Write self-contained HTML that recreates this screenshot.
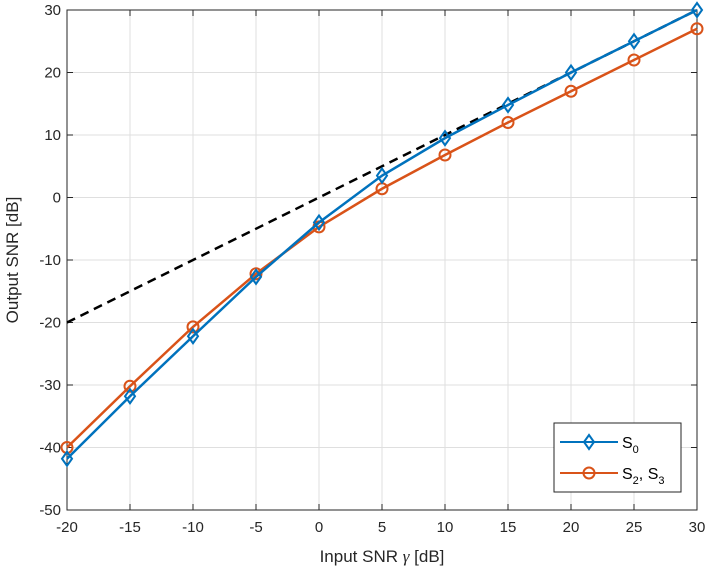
<!DOCTYPE html>
<html><head><meta charset="utf-8"><style>
body{margin:0;background:#fff}
svg{display:block;font-family:"Liberation Sans",sans-serif}
</style></head><body>
<svg id="chart" width="706" height="572" viewBox="0 0 706 572">
<g id="grid"></g>
<g id="axes"></g>
<g id="series"></g>
<text x="382" y="562" font-size="17" text-anchor="middle" fill="#262626">Input SNR <tspan font-family="Liberation Serif" font-style="italic">γ</tspan> [dB]</text>
<text transform="translate(18,260) rotate(-90)" font-size="17" text-anchor="middle" fill="#262626">Output SNR [dB]</text>
<g>
<rect x="554" y="423" width="127" height="69" fill="#fff" stroke="#262626" stroke-width="1"/>
<line x1="560" y1="442" x2="618" y2="442" stroke="#0072BD" stroke-width="2"/>
<path d="M589,435 L594,442 L589,449 L584,442 Z" fill="none" stroke="#0072BD" stroke-width="2"/>
<text x="622" y="448" font-size="16" fill="#000">S<tspan font-size="11" dy="5">0</tspan></text>
<line x1="560" y1="473" x2="618" y2="473" stroke="#D95319" stroke-width="2"/>
<circle cx="589" cy="473" r="5.5" fill="none" stroke="#D95319" stroke-width="2"/>
<text x="622" y="479" font-size="16" fill="#000">S<tspan font-size="11" dy="5">2</tspan><tspan dy="-5">, S</tspan><tspan font-size="11" dy="5">3</tspan></text>
</g>
</svg>
<script>
const xVals=[-20,-15,-10,-5,0,5,10,15,20,25,30];
const s0=[-41.8,-31.8,-22.2,-12.7,-4,3.5,9.5,14.8,20,25,30];
const s23=[-40,-30.2,-20.7,-12.2,-4.7,1.4,6.8,12,17,22,27];
const xTicks=[-20,-15,-10,-5,0,5,10,15,20,25,30];
const yTicks=[30,20,10,0,-10,-20,-30,-40,-50];
const L=67,R=697,T=10,B=510;
const xs=v=>L+(v+20)/50*(R-L);
const ys=v=>T+(30-v)/80*(B-T);
const NS='http://www.w3.org/2000/svg';
function mk(tag,attrs,parent){const e=document.createElementNS(NS,tag);for(const k in attrs)e.setAttribute(k,attrs[k]);parent.appendChild(e);return e;}
const grid=document.getElementById('grid'),axes=document.getElementById('axes'),ser=document.getElementById('series');
mk('rect',{x:L,y:T,width:R-L,height:B-T,fill:'#fff'},grid);
xTicks.forEach(t=>{const x=xs(t);
 mk('line',{x1:x,y1:T,x2:x,y2:B,stroke:'#dfdfdf','stroke-width':1},grid);
 mk('line',{x1:x,y1:B,x2:x,y2:B-6,stroke:'#262626'},axes);
 mk('line',{x1:x,y1:T,x2:x,y2:T+6,stroke:'#262626'},axes);
 const tx=mk('text',{x:x,y:B+22,'font-size':15,'text-anchor':'middle',fill:'#262626'},axes);tx.textContent=t;
 
 });
yTicks.forEach(t=>{const y=ys(t);
 mk('line',{x1:L,y1:y,x2:R,y2:y,stroke:'#dfdfdf','stroke-width':1},grid);
 mk('line',{x1:L,y1:y,x2:L+6,y2:y,stroke:'#262626'},axes);
 mk('line',{x1:R,y1:y,x2:R-6,y2:y,stroke:'#262626'},axes);
 const tx=mk('text',{x:L-6,y:y+5,'font-size':15,'text-anchor':'end',fill:'#262626'},axes);tx.textContent=t;
 
 });
mk('rect',{x:L,y:T,width:R-L,height:B-T,fill:'none',stroke:'#262626','stroke-width':1},axes);
const ref=mk('line',{x1:xs(-20),y1:ys(-20),x2:xs(30),y2:ys(30),stroke:'#000','stroke-width':2.5,'stroke-dasharray':'9,6'},ser);


function series(vals,color,marker,name){
 const p=mk('polyline',{points:xVals.map((x,i)=>xs(x)+','+ys(vals[i])).join(' '),fill:'none',stroke:color,'stroke-width':2.5},ser);
 
 
 xVals.forEach((x,i)=>{const cx=xs(x),cy=ys(vals[i]);let m;
  if(marker==='d')m=mk('path',{d:`M${cx},${cy-7}L${cx+5},${cy}L${cx},${cy+7}L${cx-5},${cy}Z`,fill:'none',stroke:color,'stroke-width':2},ser);
  else m=mk('circle',{cx:cx,cy:cy,r:5.5,fill:'none',stroke:color,'stroke-width':2},ser);
  
  });
}
series(s23,'#D95319','o','s2-s3');
series(s0,'#0072BD','d','s0');
</script>
</body></html>
